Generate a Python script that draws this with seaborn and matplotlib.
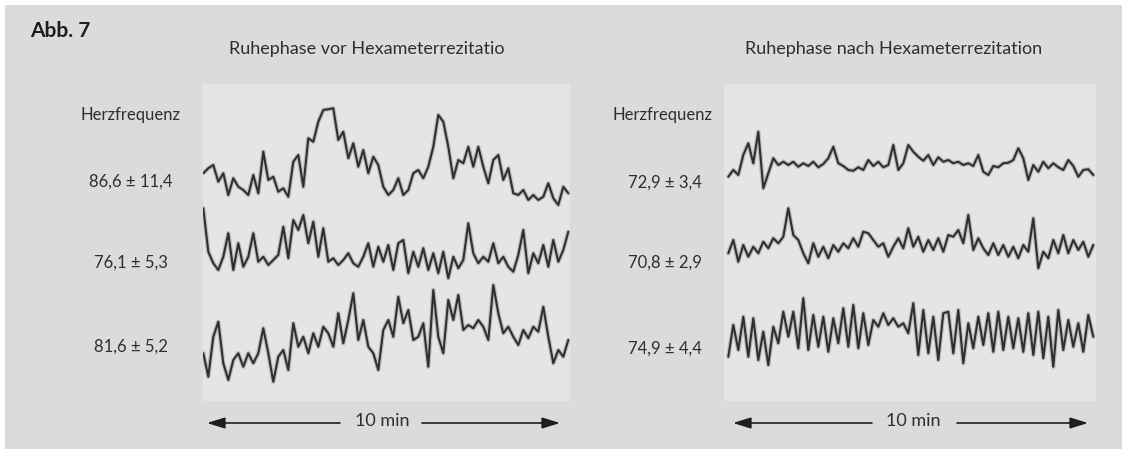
import numpy as np
import pandas as pd
import matplotlib
matplotlib.use('Agg')
import matplotlib.pyplot as plt
from matplotlib.patches import Rectangle
import seaborn as sns

# heart rate traces (bpm), 10 min each
hr_vor_1 = [85.3, 87.3, 88.6, 81.9, 85.3, 76.6, 83.3, 79.9, 78.6, 76.6,
            84.6, 77.3, 93.9, 82.6, 83.9, 77.9, 79.3, 75.9, 89.9, 92.6,
            79.9, 99.3, 97.9, 105.9, 110.6, 110.9, 111.3, 98.6, 101.9, 91.3,
            97.3, 87.9, 94.6, 85.3, 91.9, 88.6, 79.9, 76.6, 78.6, 83.3,
            76.6, 78.6, 85.3, 86.6, 83.3, 87.9, 95.9, 108.6, 105.9, 95.9,
            83.3, 90.6, 89.3, 95.9, 87.9, 95.9, 87.9, 81.3, 90.6, 92.6,
            82.6, 87.3, 77.3, 76.6, 78.6, 74.6, 76.6, 74.6, 75.9, 81.3,
            75.3, 72.6, 79.9, 77.3]
hr_vor_2 = [92.8, 75.4, 70.8, 68.1, 73.4, 82.8, 68.1, 78.8, 69.4, 73.4,
            82.8, 71.4, 73.4, 70.1, 72.1, 74.1, 85.4, 72.8, 88.1, 84.1,
            90.1, 78.8, 87.4, 73.4, 84.8, 71.4, 72.8, 70.1, 72.1, 74.8,
            70.8, 69.4, 73.4, 78.8, 69.4, 77.4, 71.4, 78.1, 68.1, 78.8,
            80.1, 66.8, 75.4, 69.4, 76.8, 68.1, 74.8, 66.8, 75.4, 64.8,
            73.4, 68.8, 72.1, 86.8, 74.8, 70.8, 73.4, 71.4, 78.8, 70.8,
            73.4, 69.4, 67.4, 74.1, 84.1, 66.8, 74.8, 70.8, 78.1, 69.4,
            80.1, 71.4, 76.1, 83.4]
hr_vor_3 = [77.5, 68.1, 84.1, 90.1, 73.5, 66.8, 74.8, 77.5, 72.1, 77.5,
            73.5, 77.5, 87.5, 77.5, 66.1, 76.1, 78.8, 70.8, 89.5, 80.1,
            84.1, 77.5, 85.5, 80.1, 88.1, 85.5, 80.1, 93.5, 81.5, 90.8,
            101.5, 82.8, 90.8, 80.1, 77.5, 70.8, 86.8, 90.8, 84.1, 100.1,
            89.5, 94.8, 82.8, 84.1, 89.5, 72.1, 102.8, 84.1, 77.5, 98.8,
            90.8, 100.8, 86.8, 88.8, 87.5, 90.8, 88.1, 82.8, 104.8, 93.5,
            85.5, 88.1, 84.1, 80.8, 86.8, 83.5, 88.1, 86.1, 96.1, 84.1,
            73.5, 78.8, 76.1, 82.8]
hr_nach_1 = [69.0, 71.7, 69.7, 77.7, 82.4, 74.4, 87.0, 64.4, 70.4, 76.4,
             73.7, 75.0, 73.7, 75.0, 73.0, 74.4, 73.3, 75.0, 72.8, 74.1,
             76.4, 81.0, 74.4, 73.3, 71.7, 71.4, 72.8, 71.7, 75.7, 73.3,
             75.0, 72.8, 73.7, 81.7, 71.7, 74.4, 81.7, 79.0, 77.0, 75.4,
             77.7, 73.7, 76.8, 75.0, 75.7, 74.4, 75.0, 73.7, 74.4, 73.3,
             77.7, 71.0, 69.7, 73.3, 72.8, 74.4, 74.6, 75.7, 80.4, 76.4,
             67.7, 73.7, 71.0, 75.0, 72.4, 74.4, 72.8, 71.7, 75.7, 73.3,
             69.0, 71.7, 72.0, 69.7]
hr_nach_2 = [68.7, 74.0, 65.3, 72.0, 67.3, 71.3, 68.7, 73.3, 70.7, 74.7,
             72.7, 75.3, 86.7, 76.0, 74.0, 68.7, 64.7, 72.7, 67.3, 71.3,
             66.7, 72.0, 69.3, 72.7, 70.7, 74.7, 71.3, 77.3, 76.7, 74.0,
             71.3, 72.7, 67.3, 71.3, 74.7, 70.7, 78.7, 71.3, 75.3, 69.3,
             74.0, 70.0, 74.7, 69.3, 76.0, 75.3, 78.0, 72.7, 84.0, 70.0,
             74.7, 70.7, 68.0, 72.7, 68.0, 72.0, 67.3, 71.3, 66.7, 72.0,
             69.3, 82.7, 62.7, 69.3, 66.7, 74.0, 68.7, 76.0, 68.7, 74.0,
             70.0, 73.3, 67.3, 72.0]
hr_nach_3 = [67.0, 79.7, 69.7, 83.0, 67.0, 82.4, 65.7, 77.0, 63.7, 79.0,
             72.4, 85.0, 75.0, 85.0, 70.4, 90.4, 69.7, 83.7, 71.0, 83.0,
             69.0, 82.4, 72.4, 86.4, 71.0, 87.7, 70.4, 84.4, 71.7, 81.7,
             79.0, 84.4, 79.7, 82.4, 79.0, 80.4, 76.4, 88.4, 67.7, 85.7,
             68.4, 83.0, 65.7, 84.4, 85.0, 68.4, 85.7, 64.4, 80.4, 70.4,
             83.0, 71.7, 84.4, 69.0, 85.0, 69.7, 83.0, 70.4, 82.4, 69.0,
             84.4, 67.7, 85.0, 66.4, 83.0, 63.0, 85.7, 69.7, 81.7, 71.0,
             80.4, 69.0, 83.7, 75.0]

mean_vor = [86.6, 76.1, 81.6]
sd_vor = [11.4, 5.3, 5.2]
mean_nach = [72.9, 70.8, 74.9]
sd_nach = [3.4, 2.9, 4.4]

titles = ["Ruhephase vor Hexameterrezitatio", "Ruhephase nach Hexameterrezitation"]

W, H = 1127, 454
PX_PER_BPM = 2.5
TRACE_COLOR = '#2f2f2f'
TEXT_COLOR = '#2e2e2e'

sns.set_theme(style='white')
plt.rcParams['font.family'] = ['Lato', 'DejaVu Sans']

fig = plt.figure(figsize=(W / 100, H / 100), dpi=100)
fig.patch.set_facecolor('white')


def rect(x0, y0, x1, y1):
    return [x0 / W, 1 - y1 / H, (x1 - x0) / W, (y1 - y0) / H]


# overlay in pixel coordinates for the frame, labels and arrows
ov = fig.add_axes([0, 0, 1, 1], zorder=0)
ov.set_xlim(0, W)
ov.set_ylim(H, 0)
ov.axis('off')
ov.add_patch(Rectangle((5, 5), W - 10, H - 10, facecolor='#dbdbdb', edgecolor='none'))

ov.text(30, 31, "Abb. 7", fontsize=15, fontweight='bold', color='#1e1e1e', va='center', ha='left')

panels = [
    dict(title=titles[0], title_x=367, box=(203, 84, 570, 401), x0=203.3,
         traces=[hr_vor_1, hr_vor_2, hr_vor_3], means=mean_vor, sds=sd_vor,
         yc=[170, 250, 343], herz_x=131, label_x=131, label_y=[182, 263, 347],
         arrow=(207, 340, 422, 560), min_x=382),
    dict(title=titles[1], title_x=894, box=(724, 84, 1096, 401), x0=728.3,
         traces=[hr_nach_1, hr_nach_2, hr_nach_3], means=mean_nach, sds=sd_nach,
         yc=[167, 248, 337], herz_x=662, label_x=665, label_y=[183, 263, 349],
         arrow=(733, 872, 957, 1088), min_x=913),
]

for p in panels:
    bx0, by0, bx1, by1 = p['box']
    bg = fig.add_axes(rect(*p['box']), zorder=1)
    bg.set_facecolor('#e5e5e5')
    bg.set_xticks([])
    bg.set_yticks([])
    for s in bg.spines.values():
        s.set_visible(False)

    px_per_min = 36.5
    for vals, m, yc in zip(p['traces'], p['means'], p['yc']):
        ax = fig.add_axes(rect(*p['box']), zorder=2)
        ax.patch.set_alpha(0)
        df = pd.DataFrame({'min': np.linspace(0, 10, len(vals)), 'hr': vals})
        # soft halo under the trace, like the blurred print
        sns.lineplot(data=df, x='min', y='hr', ax=ax, color=TRACE_COLOR,
                     linewidth=3.2, alpha=0.22, estimator=None)
        sns.lineplot(data=df, x='min', y='hr', ax=ax, color=TRACE_COLOR,
                     linewidth=1.5, estimator=None)
        ax.set_xlim((bx0 - p['x0']) / px_per_min, (bx1 - p['x0']) / px_per_min)
        ax.set_ylim(m - (by1 - yc) / PX_PER_BPM, m + (yc - by0) / PX_PER_BPM)
        ax.axis('off')

    ov.text(p['title_x'], 49, p['title'], fontsize=13, color=TEXT_COLOR, ha='center', va='center')
    ov.text(p['herz_x'], 115, "Herzfrequenz", fontsize=12, color=TEXT_COLOR, ha='center', va='center')
    for m, s, ly in zip(p['means'], p['sds'], p['label_y']):
        lab = f"{m:.1f} ± {s:.1f}".replace('.', ',')
        ov.text(p['label_x'], ly, lab, fontsize=12, color=TEXT_COLOR, ha='center', va='center')

    a0, a1, a2, a3 = p['arrow']
    arr = dict(arrowstyle='-|>,head_length=0.9,head_width=0.28', color='#1e1e1e', lw=1.2,
               shrinkA=0, shrinkB=0)
    ov.annotate('', xy=(a0, 423), xytext=(a1, 423), arrowprops=arr)
    ov.annotate('', xy=(a3, 423), xytext=(a2, 423), arrowprops=arr)
    ov.text(p['min_x'], 421, "10 min", fontsize=13, color=TEXT_COLOR, ha='center', va='center')

fig.savefig('out.png', dpi=100, facecolor=fig.get_facecolor())
